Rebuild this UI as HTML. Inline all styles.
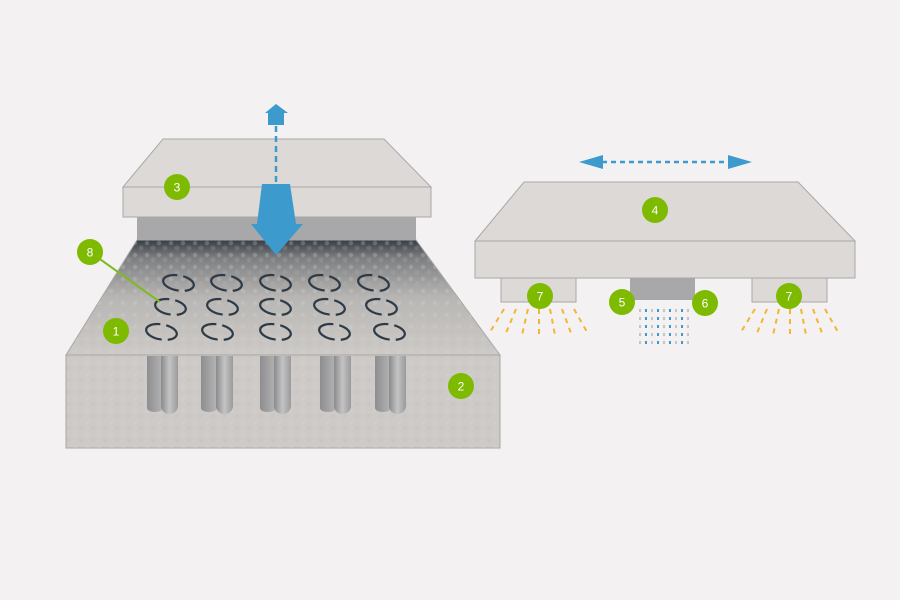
<!DOCTYPE html>
<html><head><meta charset="utf-8"><style>
html,body{margin:0;padding:0;background:#f3f1f2;}
svg{display:block;font-family:"Liberation Sans","DejaVu Sans",sans-serif;}
</style></head><body>
<svg width="900" height="600" viewBox="0 0 900 600" xmlns="http://www.w3.org/2000/svg">
<defs>
<linearGradient id="foam" x1="0" y1="0" x2="0" y2="1">
<stop offset="0" stop-color="#363d45"/>
<stop offset="0.15" stop-color="#7b7d80"/>
<stop offset="0.5" stop-color="#b8b6b4"/>
<stop offset="1" stop-color="#cdcac7"/>
</linearGradient>
<linearGradient id="cylA" x1="0" y1="0" x2="1" y2="0">
<stop offset="0" stop-color="#8e8e90"/><stop offset="1" stop-color="#b5b5b6"/>
</linearGradient>
<linearGradient id="cylB" x1="0" y1="0" x2="1" y2="0">
<stop offset="0" stop-color="#8a8a8c"/><stop offset="0.5" stop-color="#c4c4c5"/><stop offset="1" stop-color="#9a9a9c"/>
</linearGradient>
<pattern id="spk" width="12" height="12" patternUnits="userSpaceOnUse">
<circle cx="3" cy="3" r="2.2" fill="#d9d6d3" opacity="0.25"/>
<circle cx="9" cy="8" r="2.5" fill="#bdb9b6" opacity="0.2"/>
</pattern>
<g id="sw" fill="none" stroke="#2e3a45" stroke-width="2.2">
<path d="M-3,-7.4 A15,7.5 0 0 0 1,7.5"/>
<path d="M3,-7.35 A15,7.5 0 0 1 7,6.63"/>
</g>
</defs>

<polygon points="163,139 384,139 431,187 123,187" fill="#dcd9d6" stroke="#aaa8a8" stroke-width="1"/>
<rect x="123" y="187" width="308" height="30" fill="#dcd9d6" stroke="#aaa8a8" stroke-width="1"/>
<rect x="137" y="217" width="279" height="23" fill="#a8a8aa"/>

<polygon points="137,240 416,240 500,355 66,355" fill="url(#foam)" stroke="#a9a7a6" stroke-width="1"/>
<polygon points="137,240 416,240 500,355 66,355" fill="url(#spk)"/>
<rect x="66" y="355" width="434" height="93" fill="#cdcac7" stroke="#a9a7a6" stroke-width="1"/>
<rect x="66" y="355" width="434" height="93" fill="url(#spk)"/>

<g>
<path d="M147,356 h16 v52 a8,4 0 0 1 -16,0 z" fill="url(#cylA)"/>
<path d="M161,356 h17 v50 a8.5,8 0 0 1 -17,0 z" fill="url(#cylB)"/>
<path d="M201,356 h16 v52 a8,4 0 0 1 -16,0 z" fill="url(#cylA)"/>
<path d="M216,356 h17 v50 a8.5,8 0 0 1 -17,0 z" fill="url(#cylB)"/>
<path d="M260,356 h16 v52 a8,4 0 0 1 -16,0 z" fill="url(#cylA)"/>
<path d="M274,356 h17 v50 a8.5,8 0 0 1 -17,0 z" fill="url(#cylB)"/>
<path d="M320,356 h16 v52 a8,4 0 0 1 -16,0 z" fill="url(#cylA)"/>
<path d="M334,356 h17 v50 a8.5,8 0 0 1 -17,0 z" fill="url(#cylB)"/>
<path d="M375,356 h16 v52 a8,4 0 0 1 -16,0 z" fill="url(#cylA)"/>
<path d="M389,356 h17 v50 a8.5,8 0 0 1 -17,0 z" fill="url(#cylB)"/>
</g>

<g>
<use href="#sw" transform="translate(179,283) rotate(10)"/>
<use href="#sw" transform="translate(227,283) rotate(10)"/>
<use href="#sw" transform="translate(276,283) rotate(10)"/>
<use href="#sw" transform="translate(325,283) rotate(10)"/>
<use href="#sw" transform="translate(374,283) rotate(10)"/>
<use href="#sw" transform="translate(171,307) rotate(10)"/>
<use href="#sw" transform="translate(223,307) rotate(10)"/>
<use href="#sw" transform="translate(276,307) rotate(10)"/>
<use href="#sw" transform="translate(330,307) rotate(10)"/>
<use href="#sw" transform="translate(382,307) rotate(10)"/>
<use href="#sw" transform="translate(162,332) rotate(10)"/>
<use href="#sw" transform="translate(218,332) rotate(10)"/>
<use href="#sw" transform="translate(276,332) rotate(10)"/>
<use href="#sw" transform="translate(335,332) rotate(10)"/>
<use href="#sw" transform="translate(390,332) rotate(10)"/>
</g>

<line x1="276" y1="126" x2="276" y2="186" stroke="#3c9acd" stroke-width="2.5" stroke-dasharray="6,4"/>
<polygon points="276,104 288,113 284,113 284,125 268,125 268,113 265,113" fill="#3c9acd"/>
<polygon points="262,184 290,184 296,224 303,224 276,255 251,224 257,224" fill="#3c9acd"/>

<polygon points="524,182 798,182 855,241 475,241" fill="#dcd9d6" stroke="#aaa8a8" stroke-width="1"/>
<rect x="475" y="241" width="380" height="37" fill="#dcd9d6" stroke="#aaa8a8" stroke-width="1"/>
<rect x="501" y="278" width="75" height="24" fill="#dcd9d6" stroke="#aaa8a8" stroke-width="1"/>
<rect x="752" y="278" width="75" height="24" fill="#dcd9d6" stroke="#aaa8a8" stroke-width="1"/>
<rect x="630" y="278" width="65" height="22" fill="#a8a8aa"/>

<line x1="602" y1="162" x2="728" y2="162" stroke="#3c9acd" stroke-width="2.5" stroke-dasharray="5,4"/>
<polygon points="579,162 603,155 603,169" fill="#3c9acd"/>
<polygon points="752,162 728,155 728,169" fill="#3c9acd"/>

<g stroke="#f2b632" stroke-width="2" stroke-dasharray="5,5" fill="none">
<line x1="504" y1="309" x2="490" y2="332"/>
<line x1="516" y1="309" x2="506" y2="333"/>
<line x1="528" y1="309" x2="522" y2="335"/>
<line x1="539" y1="309" x2="539" y2="336"/>
<line x1="550" y1="309" x2="555" y2="335"/>
<line x1="562" y1="309" x2="571" y2="333"/>
<line x1="574" y1="309" x2="587" y2="332"/>
<line x1="755" y1="309" x2="741" y2="332"/>
<line x1="767" y1="309" x2="757" y2="333"/>
<line x1="779" y1="309" x2="773" y2="335"/>
<line x1="790" y1="309" x2="790" y2="336"/>
<line x1="801" y1="309" x2="806" y2="335"/>
<line x1="813" y1="309" x2="822" y2="333"/>
<line x1="825" y1="309" x2="838" y2="332"/>
</g>
<g stroke-width="2" stroke-dasharray="3,5" fill="none">
<line x1="640" y1="309" x2="640" y2="345" stroke="#c4c4c6"/>
<line x1="646" y1="309" x2="646" y2="345" stroke="#3c9acd"/>
<line x1="652" y1="309" x2="652" y2="345" stroke="#c4c4c6"/>
<line x1="658" y1="309" x2="658" y2="345" stroke="#3c9acd"/>
<line x1="664" y1="309" x2="664" y2="345" stroke="#c4c4c6"/>
<line x1="670" y1="309" x2="670" y2="345" stroke="#3c9acd"/>
<line x1="676" y1="309" x2="676" y2="345" stroke="#c4c4c6"/>
<line x1="682" y1="309" x2="682" y2="345" stroke="#3c9acd"/>
<line x1="688" y1="309" x2="688" y2="345" stroke="#c4c4c6"/>
</g>

<line x1="90" y1="252" x2="160" y2="302" stroke="#7dba1e" stroke-width="2"/>
<g fill="#7dba00">
<circle cx="116" cy="331" r="13"/>
<circle cx="461" cy="386" r="13"/>
<circle cx="177" cy="187" r="13"/>
<circle cx="655" cy="210" r="13"/>
<circle cx="622" cy="302" r="13"/>
<circle cx="705" cy="303" r="13"/>
<circle cx="540" cy="296" r="13"/>
<circle cx="789" cy="296" r="13"/>
<circle cx="90" cy="252" r="13"/>
</g>
<g fill="#fff" font-size="12" text-anchor="middle">
<text x="116" y="335.5">1</text>
<text x="461" y="390.5">2</text>
<text x="177" y="191.5">3</text>
<text x="655" y="214.5">4</text>
<text x="622" y="306.5">5</text>
<text x="705" y="307.5">6</text>
<text x="540" y="300.5">7</text>
<text x="789" y="300.5">7</text>
<text x="90" y="256.5">8</text>
</g>
</svg>
</body></html>
